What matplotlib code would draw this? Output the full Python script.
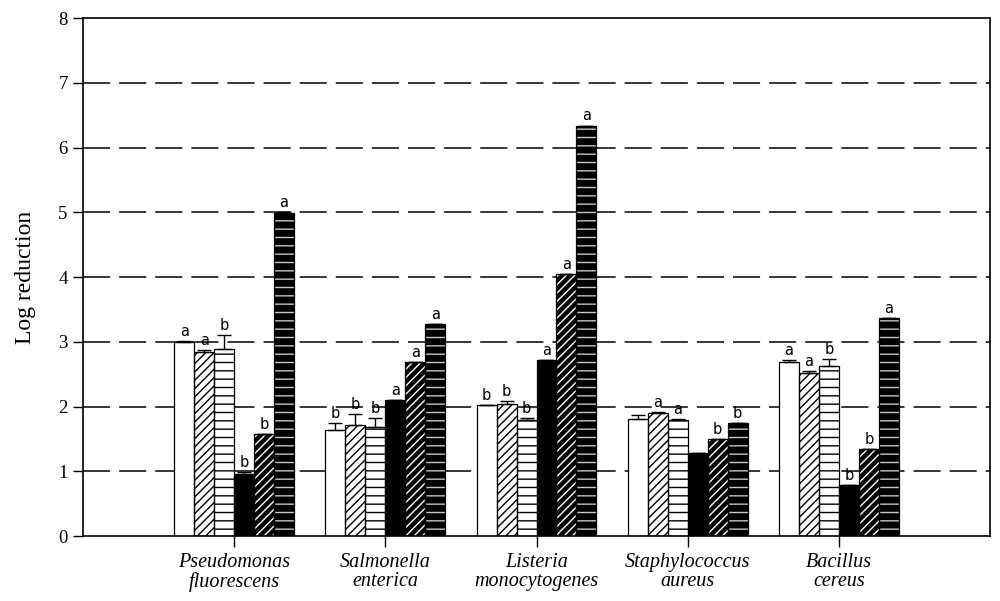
import matplotlib
matplotlib.use("Agg")
import matplotlib.pyplot as plt
import numpy as np

plt.rcParams['font.family'] = ['Liberation Serif', 'DejaVu Serif']
plt.rcParams['hatch.linewidth'] = 1.0
plt.rcParams['lines.scale_dashes'] = False

categories = ["Pseudomonas\nfluorescens", "Salmonella\nenterica", "Listeria\nmonocytogenes",
              "Staphylococcus\naureus", "Bacillus\ncereus"]

# six treatments per organism (bar order left to right)
t1 = [3.00, 1.64, 2.02, 1.81, 2.69]
t2 = [2.84, 1.72, 2.04, 1.90, 2.52]
t3 = [2.89, 1.69, 1.79, 1.80, 2.63]
t4 = [0.96, 2.10, 2.72, 1.29, 0.79]
t5 = [1.58, 2.69, 4.05, 1.50, 1.34]
t6 = [4.99, 3.27, 6.34, 1.74, 3.37]

e1 = [0.01, 0.10, 0.01, 0.06, 0.03]
e2 = [0.04, 0.16, 0.04, 0.02, 0.03]
e3 = [0.22, 0.14, 0.03, 0.01, 0.11]
e4 = [0.03, 0.00, 0.00, 0.00, 0.00]
e5 = [0.00, 0.00, 0.00, 0.00, 0.00]
e6 = [0.01, 0.00, 0.00, 0.00, 0.00]

l1 = ["a", "b", "b", "", "a"]
l2 = ["a", "b", "b", "a", "a"]
l3 = ["b", "b", "b", "a", "b"]
l4 = ["b", "a", "a", "", "b"]
l5 = ["b", "a", "a", "b", "b"]
l6 = ["a", "a", "a", "b", "a"]

series = [t1, t2, t3, t4, t5, t6]
errors = [e1, e2, e3, e4, e5, e6]
letters = [l1, l2, l3, l4, l5, l6]

styles = [
    dict(face="white", hatch=None, hcol="black"),
    dict(face="white", hatch="////", hcol="black"),
    dict(face="white", hatch="--", hcol="black"),
    dict(face="black", hatch=None, hcol="black"),
    dict(face="black", hatch="////", hcol="white"),
    dict(face="black", hatch="--", hcol="#c8c8c8"),
]

fig = plt.figure(figsize=(10.0, 6.01), dpi=100)
ax = fig.add_axes([0.083, 0.108, 0.907, 0.862])

x = np.arange(1, len(categories) + 1)
w = 0.132

for yv in range(1, 8):
    ax.axhline(yv, color="black", lw=1.1, dashes=(19.5, 6.5), zorder=0)

for i, (vals, errs, labs, st) in enumerate(zip(series, errors, letters, styles)):
    xs = x + (i - 2.5) * w
    ax.bar(xs, vals, width=w, color=st["face"], edgecolor=st["hcol"],
           hatch=st["hatch"], linewidth=0, zorder=2)
    ax.bar(xs, vals, width=w, fill=False, edgecolor="black", linewidth=0.9, zorder=3)
    ax.errorbar(xs, vals, yerr=[np.zeros(len(vals)), errs], fmt="none",
                ecolor="black", elinewidth=1.0, capsize=5, capthick=1.0, zorder=4)
    for xi, v, e, lab in zip(xs, vals, errs, labs):
        if lab:
            ax.annotate(lab, (xi, v + e), xytext=(0, 1.5), textcoords="offset points",
                        ha="center", va="bottom", fontsize=10.5,
                        family=["DejaVu Sans"], zorder=5)

ax.set_xlim(0, 6)
ax.set_ylim(0, 8)
ax.set_xticks(x)
ax.set_xticklabels(categories, fontstyle="italic", fontsize=14.5, linespacing=1.05)
ax.set_yticks(range(0, 9))
ax.tick_params(axis="y", direction="out", length=7, width=1.0, labelsize=13.5, pad=4)
ax.tick_params(axis="x", direction="out", length=8, width=1.0, pad=4)
ax.set_ylabel("Log reduction", fontsize=17, labelpad=16)
for s in ax.spines.values():
    s.set_linewidth(1.2)

fig.savefig("out.png", dpi=100)
